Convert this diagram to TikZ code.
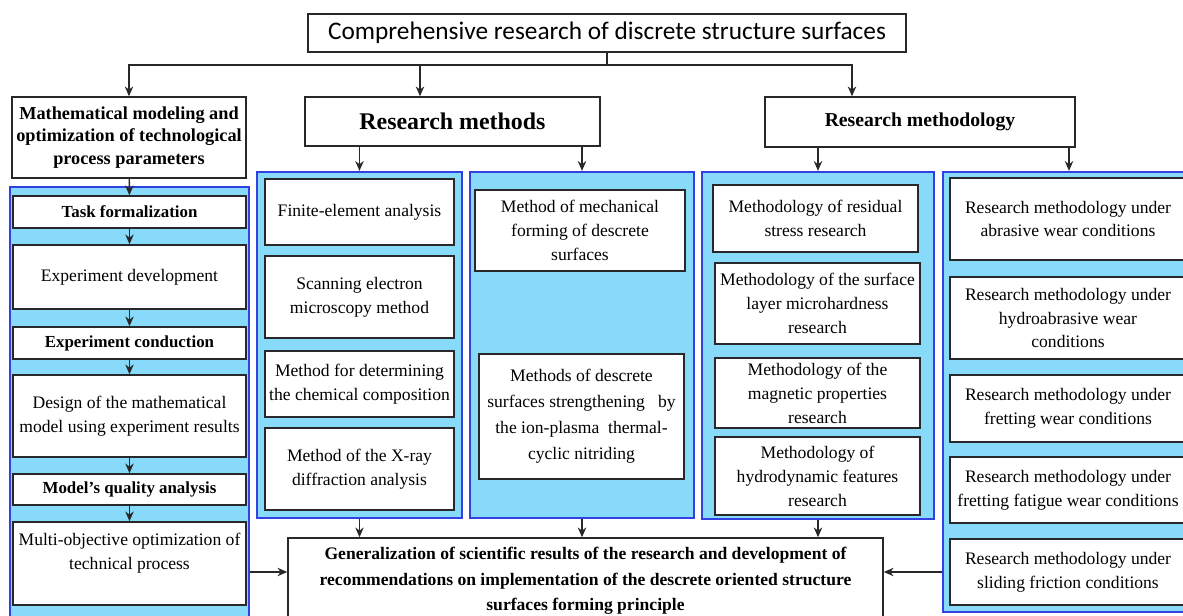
\documentclass[tikz,border=0pt]{standalone}
\usepackage{fontspec}
\setmainfont{Liberation Serif}
\newfontfamily\calibfont{Carlito}
\usepackage{tikz}
\usetikzlibrary{arrows.meta}

\definecolor{panelblue}{RGB}{136,218,250}
\definecolor{edgeblue}{RGB}{50,65,225}
\definecolor{linegray}{RGB}{40,40,40}

\begin{document}
\begin{tikzpicture}[
                x=0.025cm, y=-0.025cm,        % 1 单位 = 1 像素
                >={Stealth[length=7pt, width=6pt]},
                line width=1pt,
                box/.style 2 args={
                    rectangle,
                    draw=linegray,
                    fill=white,
                    line width=1pt,
                    minimum width=#1*0.025cm,
                    minimum height=#2*0.025cm,
                    inner sep=1pt,
                    align=center
                },
                panel/.style 2 args={
                    rectangle,
                    draw=edgeblue,
                    fill=panelblue,
                    line width=1.6pt,
                    minimum width=#1*0.025cm,
                    minimum height=#2*0.025cm,
                    inner sep=0pt
                },
                txt/.style={font=\fontsize{12.5}{17}\selectfont},
                bld/.style={font=\fontsize{12}{17}\selectfont\bfseries},
                arrow/.style={->, draw=linegray, line width=1pt}
            ]
                \useasboundingbox (0,0) rectangle (1183,616);

                % 标题
                \node[box={598}{38}, font=\calibfont\fontsize{18}{20}\selectfont] (top) at (607,33) {Comprehensive research of discrete structure surfaces};
                \node[box={234}{81}, font=\fontsize{13}{16}\selectfont\bfseries] (mm) at (129,137.5) {Mathematical modeling and\\optimization of technological\\process parameters};
                \node[box={295}{49}, font=\fontsize{17}{20}\selectfont\bfseries] (rmeth) at (452.5,121.5) {Research methods};
                \node[box={310}{50}, font=\fontsize{14}{17}\selectfont\bfseries] (rmgy) at (920,122) {Research methodology};

                % 面板
                \node[panel={239}{435}] (pl) at (129.5,404.5) {};
                \node[panel={205}{346}] (pa) at (359.5,345) {};
                \node[panel={224}{346}] (pb) at (582,345) {};
                \node[panel={232}{347}] (pc) at (818,345.5) {};
                \node[panel={252}{440}] (pd) at (1069,392) {};

                % 左列
                \node[box={233}{32}, bld] (tf) at (129.5,212) {Task formalization};
                \node[box={233}{64}, txt] (ed) at (129.5,277) {Experiment development};
                \node[box={233}{32}, bld] (ec) at (129.5,343) {Experiment conduction};
                \node[box={233}{82}, txt] (dm) at (129.5,416) {Design of the mathematical\\model using experiment results};
                \node[box={233}{31}, bld] (mq) at (129.5,489.5) {Model's quality analysis};
                \node[box={233}{83}, txt] (mo) at (129.5,563.5) {Multi-objective optimization of\\technical process\\~};

                % 研究方法
                \node[box={189}{66}, txt] (fe) at (359.5,212) {Finite-element analysis};
                \node[box={189}{82}, txt] (sem) at (359.5,297) {Scanning electron\\microscopy method};
                \node[box={189}{66}, txt] (cc) at (359.5,384) {Method for determining\\the chemical composition};
                \node[box={189}{82}, txt] (xr) at (359.5,469) {Method of the X-ray\\diffraction analysis};
                \node[box={210}{81}, txt] (mf) at (580,230.5) {Method of mechanical\\forming of descrete\\surfaces};
                \node[box={205}{125}, font=\fontsize{12.5}{18.5}\selectfont] (ni) at (581.5,416.5) {Methods of descrete\\surfaces strengthening \ \ by\\the ion-plasma \ thermal-\\cyclic nitriding};

                % 研究方法论
                \node[box={205}{67}, txt] (rs) at (815.5,218.5) {Methodology of residual\\stress research};
                \node[box={205}{81}, txt] (mh) at (817.5,303.5) {Methodology of the surface\\layer microhardness\\research};
                \node[box={205}{70}, txt] (mp) at (817.5,393) {Methodology of the\\magnetic properties\\research};
                \node[box={205}{78}, txt] (hf) at (817.5,476) {Methodology of\\hydrodynamic features\\research};
                \node[box={236}{82}, txt] (ab) at (1068,219) {Research methodology under\\abrasive wear conditions};
                \node[box={236}{82}, txt] (ha) at (1068,318) {Research methodology under\\hydroabrasive wear\\conditions};
                \node[box={236}{67}, txt] (fw) at (1068,408.5) {Research methodology under\\fretting wear conditions};
                \node[box={236}{66}, txt] (ff) at (1068,490) {Research methodology under\\fretting fatigue wear conditions};
                \node[box={236}{66}, txt] (sf) at (1068,572) {Research methodology under\\sliding friction conditions};

                % 结论
                \node[box={595}{86}, font=\fontsize{12.5}{18}\selectfont\bfseries] (gen) at (585.5,581) {Generalization of scientific results of the research and development of\\recommendations on implementation of the descrete oriented structure\\surfaces forming principle};

                % 边
                \coordinate (split) at (607,65);
                \draw[linegray] (top.south) -- (split);
                \draw[arrow] (split) -| (mm.north);
                \draw[arrow] (split) -| ([xshift=-0.8125cm]rmeth.north);
                \draw[arrow] (split) -| ([xshift=-1.7cm]rmgy.north);
                \draw[arrow] (rmeth.south -| pa.north) -- (pa.north);
                \draw[arrow] (rmeth.south -| pb.north) -- (pb.north);
                \draw[arrow] (rmgy.south -| pc.north) -- (pc.north);
                \draw[arrow] (rmgy.south -| pd.north) -- (pd.north);

                \draw[arrow] (mm) -- (tf);
                \draw[arrow] (tf) -- (ed);
                \draw[arrow] (ed) -- (ec);
                \draw[arrow] (ec) -- (dm);
                \draw[arrow] (dm) -- (mq);
                \draw[arrow] (mq) -- (mo);

                \draw[arrow] (pa.south) -- (pa.south |- gen.north);
                \draw[arrow] (pb.south) -- (pb.south |- gen.north);
                \draw[arrow] (pc.south) -- (pc.south |- gen.north);
                \coordinate (gl) at ([yshift=0.225cm]gen.west);
                \coordinate (gr) at ([yshift=0.225cm]gen.east);
                \draw[arrow] (gl -| pl.east) -- (gl);
                \draw[arrow] (gr -| pd.west) -- (gr);
            \end{tikzpicture}
\end{document}
